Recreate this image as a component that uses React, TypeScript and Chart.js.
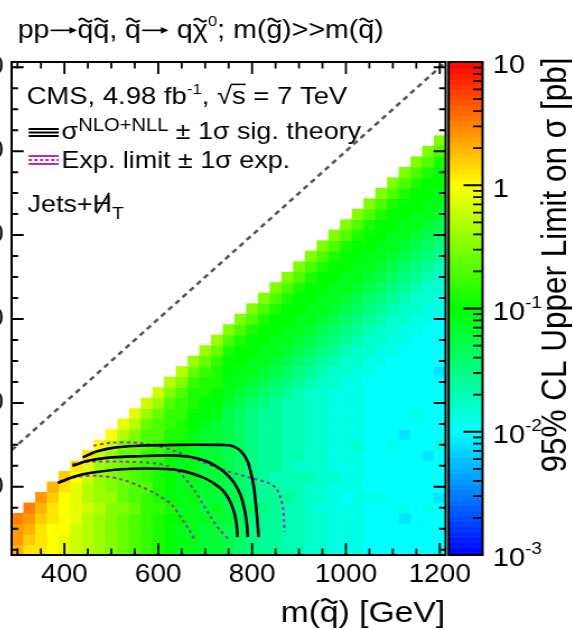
import React, { useEffect, useRef } from "react";
import { Chart, registerables } from "chart.js";

Chart.register(...registerables);

const FONT = '"Liberation Sans", Arial, Helvetica, sans-serif';
Chart.defaults.font.family = FONT;
Chart.defaults.color = "#000";

// ---- grid of the limit map (bin centres, GeV) ----
const squarkMass = [300, 325, 350, 375, 400, 425, 450, 475, 500, 525, 550, 575, 600, 625, 650, 675, 700, 725, 750, 775, 800, 825, 850, 875, 900, 925, 950, 975, 1000, 1025, 1050, 1075, 1100, 1125, 1150, 1175, 1200];
const lspMass = [50, 75, 100, 125, 150, 175, 200, 225, 250, 275, 300, 325, 350, 375, 400, 425, 450, 475, 500, 525, 550, 575, 600, 625, 650, 675, 700, 725, 750, 775, 800, 825, 850, 875, 900, 925, 950, 975, 1000, 1025];
const BIN = 25;

// Each string is one squark-mass column, from m(LSP)=50 upward.
// Character code k (position in LEVEL_CODES) means log10(sigma_UL / pb) = -2.5 + 0.1*k
const LEVEL_CODES = "0123456789ABCDEFGHIJKLMNOPQRSTUV";
const limitCols = [
  "STTU",
  "QRSTU",
  "QQQRST",
  "PPPQQRS",
  "OOPPPPQR",
  "NNNOOOOPQ",
  "MMMMNMMNOQ",
  "LLLLMLLLLNP",
  "KKKKKLKKKLNP",
  "JJJJKJJJJJKMO",
  "IIIIJIIIIJJKMO",
  "HHHHHHIHHHIIJLN",
  "GGGGHGGGGHHIIJLN",
  "FFFFGFFFFFGGHHIKM",
  "EEEFEEEEEEFGGHHIKM",
  "EEEEEFEEEEEEFFGGHJL",
  "DDDEDDDDDDDDEFFGGHJL",
  "DDDDEDDDDDDDDEFFGGHJL",
  "CCCDCCCCCCCCCCDEEFFGIK",
  "BBBBBCBBBBBBBBCDEEFFGIK",
  "AAAABAAAAAAAAABCDEEFFGIK",
  "9999A999999999ABCDEEFFGIK",
  "999999989999999ABCDEEFFGIK",
  "8888898888888889ABCDEEFFGIK",
  "88888888788888889ABCDEEFFGIK",
  "777777787777777789ABCDEEFFGIK",
  "7777677777777777789ABCDEEFFGIK",
  "66666667666666667789ABCDEEFFGIK",
  "666665666666666667789ABCDEEFFGIK",
  "6666666666766666667789ABCDEEFFGIK",
  "55555655555555555667789ABCDEEFFGIK",
  "555556555555555555667789ABCDEEFFGIK",
  "5555555555655555555667789ABCDEEFFGIK",
  "55546555555455555555667789ABCDEEFFGIK",
  "555555555555565555555667789ABCDEEFFGIK",
  "5555655554555555555555667789ABCDEEFFGIK",
  "55555455556555555455555667789ABCDEEFFGIK",
];

// ---- exclusion contours (m(squark), m(LSP)) in GeV ----
const theoryUp = [[439, 270], [470, 285], [510, 294], [560, 298], [640, 300], [720, 300], [752, 299], [768, 292], [780, 280], [790, 262], [797, 236], [803, 205], [807, 170], [811, 125], [814, 80]];
const theoryNominal = [[417, 250], [450, 262], [490, 269], [560, 273], [624, 275], [670, 271], [700, 262], [722, 250], [740, 236], [756, 218], [768, 198], [778, 172], [785, 140], [789, 110], [791, 80]];
const theoryDown = [[386, 209], [420, 224], [454, 233], [524, 242], [600, 243], [650, 238], [694, 223], [720, 207], [737, 192], [750, 172], [758, 152], [764, 130], [767, 110], [769, 80]];
const expectedUp = [[462, 298], [500, 305], [555, 305], [600, 297], [640, 284], [688, 262], [740, 240], [795, 222], [837, 208], [852, 195], [860, 176], [866, 150], [868, 120], [869, 92]];
const expectedNominal = [[417, 255], [460, 260], [524, 260], [596, 256], [625, 247], [645, 235], [660, 216], [678, 190], [694, 161], [712, 128], [731, 97], [750, 75]];
const expectedDown = [[390, 214], [430, 224], [475, 226], [520, 218], [560, 202], [595, 183], [628, 158], [652, 121], [666, 97], [678, 73]];
const diagonal = [[287.5, 287.5], [1212.5, 1212.5]];

// ---- axes ----
const xRange = [287.5, 1212.5];
const yRange = [37.5, 1212.5];
const zRange = [0.001, 10];
const xTickLabels = [400, 600, 800, 1000, 1200];
const yTickLabels = [200, 400, 600, 800, 1000, 1200];
const zTickLabels = [0.001, 0.01, 0.1, 1, 10];

const STRETCH = 1.12;
const OFFSET_X = -77.6;
const CW = 580;
const CH = 630;

function paletteColor(lv: number) {
  const t = Math.min(1, Math.max(0, (lv + 3) / 4));
  return `hsl(${240 * (1 - t)},100%,50%)`;
}

type Run = { t: string; size?: number; dy?: number; tilde?: boolean; slash?: boolean; over?: boolean; arrow?: number };

function drawTilde(ctx: CanvasRenderingContext2D, cx: number, cy: number, w: number, lw: number) {
  ctx.save();
  ctx.strokeStyle = "#000";
  ctx.lineWidth = lw;
  ctx.beginPath();
  const n = 20;
  const amp = w * 0.13;
  for (let i = 0; i <= n; i++) {
    const u = i / n;
    const px = cx - w / 2 + u * w;
    const py = cy - amp * Math.sin(u * 2 * Math.PI);
    if (i === 0) ctx.moveTo(px, py);
    else ctx.lineTo(px, py);
  }
  ctx.stroke();
  ctx.restore();
}

function runWidth(ctx: CanvasRenderingContext2D, r: Run, base: number) {
  if (r.arrow) return r.arrow;
  ctx.font = `${r.size ?? base}px ${FONT}`;
  return ctx.measureText(r.t).width;
}

function drawRuns(ctx: CanvasRenderingContext2D, x: number, y: number, runs: Run[], base: number, align: "left" | "right" = "left") {
  ctx.save();
  ctx.textAlign = "left";
  ctx.textBaseline = "alphabetic";
  ctx.fillStyle = "#000";
  let total = 0;
  for (const r of runs) total += runWidth(ctx, r, base);
  let cx = align === "right" ? x - total : x;
  for (const r of runs) {
    const size = r.size ?? base;
    const w = runWidth(ctx, r, base);
    const by = y + (r.dy ?? 0);
    if (r.arrow) {
      const ay = by - size * 0.3;
      ctx.save();
      ctx.strokeStyle = "#000";
      ctx.lineWidth = size * 0.065;
      ctx.beginPath();
      ctx.moveTo(cx + 1, ay);
      ctx.lineTo(cx + w - 2, ay);
      ctx.stroke();
      ctx.beginPath();
      ctx.moveTo(cx + w - 0.5, ay);
      ctx.lineTo(cx + w - size * 0.28, ay - size * 0.13);
      ctx.lineTo(cx + w - size * 0.28, ay + size * 0.13);
      ctx.closePath();
      ctx.fill();
      ctx.restore();
      cx += w;
      continue;
    }
    ctx.font = `${size}px ${FONT}`;
    ctx.fillText(r.t, cx, by);
    if (r.tilde) drawTilde(ctx, cx + w / 2, by - size * 0.7, w * 0.85, size * 0.075);
    if (r.slash) {
      ctx.save();
      ctx.strokeStyle = "#000";
      ctx.lineWidth = size * 0.07;
      ctx.beginPath();
      ctx.moveTo(cx + w * 0.2, by + size * 0.06);
      ctx.lineTo(cx + w * 0.85, by - size * 0.8);
      ctx.stroke();
      ctx.restore();
    }
    if (r.over) {
      ctx.save();
      ctx.strokeStyle = "#000";
      ctx.lineWidth = size * 0.06;
      ctx.beginPath();
      ctx.moveTo(cx - 1, by - size * 0.8);
      ctx.lineTo(cx + w, by - size * 0.8);
      ctx.stroke();
      ctx.restore();
    }
    cx += w;
  }
  ctx.restore();
}

const heatmapPlugin = {
  id: "heatmap",
  beforeDatasetsDraw(chart: any) {
    const { ctx, chartArea: a, scales } = chart;
    const xs = scales.x;
    const ys = scales.y;
    ctx.save();
    ctx.beginPath();
    ctx.rect(a.left, a.top, a.right - a.left, a.bottom - a.top);
    ctx.clip();
    limitCols.forEach((col, i) => {
      const m = squarkMass[i];
      const x0 = xs.getPixelForValue(m - BIN / 2);
      const x1 = xs.getPixelForValue(m + BIN / 2);
      for (let j = 0; j < col.length; j++) {
        const k = LEVEL_CODES.indexOf(col[j]);
        const lv = -2.5 + 0.1 * k;
        const ml = lspMass[j];
        const y0 = ys.getPixelForValue(ml + BIN / 2);
        const y1 = ys.getPixelForValue(ml - BIN / 2);
        ctx.fillStyle = paletteColor(lv);
        ctx.fillRect(x0, y0, x1 - x0 + 0.6, y1 - y0 + 0.6);
      }
    });
    ctx.restore();
  },
};

const overlayPlugin = {
  id: "overlay",
  afterDraw(chart: any) {
    const { ctx, chartArea: a, scales } = chart;
    const xs = scales.x;
    const ys = scales.y;
    const zs = scales.z;
    ctx.save();
    ctx.strokeStyle = "#000";
    ctx.fillStyle = "#000";

    // frame
    ctx.lineWidth = 2;
    ctx.strokeRect(a.left, a.top, a.right - a.left, a.bottom - a.top);

    // ticks on all sides (inward)
    ctx.lineWidth = 1.8;
    ctx.beginPath();
    for (let v = 300; v <= 1200; v += 50) {
      const major = xTickLabels.includes(v);
      const len = major ? 12 : 6.5;
      const px = xs.getPixelForValue(v);
      ctx.moveTo(px, a.bottom);
      ctx.lineTo(px, a.bottom - len);
      ctx.moveTo(px, a.top);
      ctx.lineTo(px, a.top + len);
    }
    ctx.stroke();
    ctx.lineWidth = 2;
    ctx.beginPath();
    for (let v = 50; v <= 1200; v += 50) {
      const major = yTickLabels.includes(v);
      const len = major ? 10.7 : 5.8;
      const py = ys.getPixelForValue(v);
      ctx.moveTo(a.left, py);
      ctx.lineTo(a.left + len, py);
      ctx.moveTo(a.right, py);
      ctx.lineTo(a.right - len, py);
    }
    ctx.stroke();

    // colour bar
    const cbL = 470.2;
    const cbR = 500.5;
    for (let i = 0; i < 400; i++) {
      const lv = -3 + i * 0.01;
      const yTop = zs.getPixelForValue(Math.pow(10, lv + 0.01));
      const yBot = zs.getPixelForValue(Math.pow(10, lv));
      ctx.fillStyle = paletteColor(lv + 0.005);
      ctx.fillRect(cbL, yTop - 0.3, cbR - cbL, yBot - yTop + 0.6);
    }
    ctx.strokeStyle = "#000";
    ctx.lineWidth = 2;
    ctx.strokeRect(cbL, zs.top, cbR - cbL, zs.bottom - zs.top);
    ctx.lineWidth = 1.8;
    ctx.beginPath();
    for (let d = -3; d <= 1; d++) {
      for (let m = 1; m <= 9; m++) {
        const v = m * Math.pow(10, d);
        if (v < zRange[0] - 1e-12 || v > zRange[1] + 1e-9) continue;
        const py = zs.getPixelForValue(v);
        const len = m === 1 ? 17 : 8.5;
        ctx.moveTo(cbR, py);
        ctx.lineTo(cbR - len, py);
      }
    }
    ctx.stroke();

    // colour bar labels
    ctx.fillStyle = "#000";
    zTickLabels.forEach((v) => {
      const py = zs.getPixelForValue(v) + 2 + 0.716 * 26 / 2;
      const e = Math.round(Math.log10(v));
      let runs: Run[];
      if (e === 0) runs = [{ t: "1" }];
      else if (e === 1) runs = [{ t: "10" }];
      else runs = [{ t: "10" }, { t: String(e), size: 17, dy: -12 }];
      drawRuns(ctx, 509.5, py, runs, 26);
    });

    // colour bar title
    ctx.save();
    ctx.translate(574.6, 265);
    ctx.rotate(-Math.PI / 2);
    ctx.font = `31.5px ${FONT}`;
    ctx.textAlign = "center";
    ctx.textBaseline = "alphabetic";
    ctx.fillStyle = "#000";
    ctx.fillText("95% CL Upper Limit on \u03c3 [pb]", 0, 0);
    ctx.restore();

    // x axis title
    drawRuns(ctx, 467, 622, [{ t: "m(" }, { t: "q", tilde: true }, { t: ") [GeV]" }], 30, "right");

    // plot title
    drawRuns(
      ctx,
      85.4,
      38,
      [
        { t: "pp" },
        { t: "", arrow: 25 },
        { t: "q", tilde: true },
        { t: "q", tilde: true },
        { t: ", " },
        { t: "q", tilde: true },
        { t: "", arrow: 25 },
        { t: " q" },
        { t: "\u03c7", tilde: true },
        { t: "0", size: 15, dy: -12 },
        { t: "; m(" },
        { t: "g", tilde: true },
        { t: ")>>m(" },
        { t: "q", tilde: true },
        { t: ")" },
      ],
      25.5
    );

    // legend block
    drawRuns(
      ctx,
      93.4,
      104,
      [
        { t: "CMS, 4.98 fb" },
        { t: "-1", size: 15, dy: -10 },
        { t: ", " },
        { t: "\u221a" },
        { t: "s", over: true },
        { t: " = 7 TeV" },
      ],
      24.5
    );

    // theory icon (three solid black lines)
    ctx.strokeStyle = "#000";
    ctx.lineWidth = 2;
    ctx.setLineDash([]);
    ctx.beginPath();
    [129, 132.5, 136].forEach((yy) => {
      ctx.moveTo(95.2, yy);
      ctx.lineTo(122, yy);
    });
    ctx.stroke();
    drawRuns(
      ctx,
      124.6,
      139,
      [{ t: "\u03c3" }, { t: "NLO+NLL", size: 18, dy: -8 }, { t: " \u00b1 1\u03c3 sig. theory" }],
      24
    );

    // expected icon (purple)
    ctx.strokeStyle = "#b030b8";
    ctx.lineWidth = 2;
    ctx.beginPath();
    ctx.moveTo(95.2, 156);
    ctx.lineTo(122, 156);
    ctx.moveTo(95.2, 164);
    ctx.lineTo(122, 164);
    ctx.stroke();
    ctx.setLineDash([3, 2]);
    ctx.beginPath();
    ctx.moveTo(95.2, 160);
    ctx.lineTo(122, 160);
    ctx.stroke();
    ctx.setLineDash([]);
    drawRuns(ctx, 124.6, 168, [{ t: "Exp. limit \u00b1 1\u03c3 exp." }], 24);

    drawRuns(ctx, 94.3, 212, [{ t: "Jets+" }, { t: "H", slash: true }, { t: "T", size: 17, dy: 7 }], 24);

    ctx.restore();
  },
};

function toPts(arr: number[][]) {
  return arr.map(([x, y]) => ({ x, y }));
}

export default function App() {
  const ref = useRef<HTMLCanvasElement | null>(null);
  useEffect(() => {
    if (!ref.current) return;
    const black = (data: number[][], w: number) => ({
      data: toPts(data),
      showLine: true,
      borderColor: "#000",
      borderWidth: w,
      pointRadius: 0,
      tension: 0.3,
      fill: false,
      order: 0,
      xAxisID: "x",
      yAxisID: "y",
    });
    const purple = (data: number[][]) => ({
      data: toPts(data),
      showLine: true,
      borderColor: "#8e3fa6",
      borderWidth: 2,
      borderDash: [3, 3],
      pointRadius: 0,
      tension: 0.3,
      fill: false,
      order: 1,
      xAxisID: "x",
      yAxisID: "y",
    });
    const chart = new Chart(ref.current, {
      type: "scatter",
      data: {
        datasets: [
          {
            data: toPts(diagonal),
            showLine: true,
            borderColor: "#555",
            borderWidth: 2.5,
            borderDash: [5, 4],
            pointRadius: 0,
            tension: 0,
            fill: false,
            order: 2,
            xAxisID: "x",
            yAxisID: "y",
          },
          purple(expectedUp),
          purple(expectedNominal),
          purple(expectedDown),
          black(theoryUp, 2.6),
          black(theoryNominal, 2.6),
          black(theoryDown, 2.6),
        ] as any,
      },
      options: {
        animation: false,
        responsive: false,
        devicePixelRatio: 1,
        events: [],
        layout: { padding: { top: 62, right: CW - 467.5, left: 0, bottom: 0 } },
        plugins: { legend: { display: false }, tooltip: { enabled: false } },
        scales: {
          x: {
            type: "linear",
            position: "bottom",
            min: xRange[0],
            max: xRange[1],
            grid: { display: false, drawTicks: false },
            border: { display: false },
            ticks: {
              font: { size: 25, family: FONT },
              color: "#000",
              padding: 5,
              maxRotation: 0,
              autoSkip: false,
              callback: (v: any) => String(v),
            },
            afterBuildTicks: (s: any) => {
              s.ticks = xTickLabels.map((v) => ({ value: v }));
            },
            afterFit: (s: any) => {
              s.height = 75;
            },
          },
          y: {
            type: "linear",
            position: "left",
            min: yRange[0],
            max: yRange[1],
            grid: { display: false, drawTicks: false },
            border: { display: false },
            ticks: {
              font: { size: 25, family: FONT },
              color: "#000",
              padding: 7,
              autoSkip: false,
              callback: (v: any) => String(v),
            },
            afterBuildTicks: (s: any) => {
              s.ticks = yTickLabels.map((v) => ({ value: v }));
            },
            afterFit: (s: any) => {
              s.width = 80;
            },
          },
          z: {
            type: "logarithmic",
            axis: "y",
            position: "right",
            display: false,
            min: zRange[0],
            max: zRange[1],
          },
        } as any,
      },
      plugins: [heatmapPlugin, overlayPlugin],
    } as any);
    return () => chart.destroy();
  }, []);

  return (
    <div style={{ position: "fixed", left: 0, top: 0, width: 573, height: 630, overflow: "hidden", background: "#fff" }}>
      <div
        style={{
          position: "absolute",
          left: OFFSET_X,
          top: 0,
          width: CW,
          height: CH,
          transform: `scaleX(${STRETCH})`,
          transformOrigin: "0 0",
        }}
      >
        <canvas ref={ref} width={CW} height={CH} style={{ display: "block" }} />
      </div>
    </div>
  );
}
